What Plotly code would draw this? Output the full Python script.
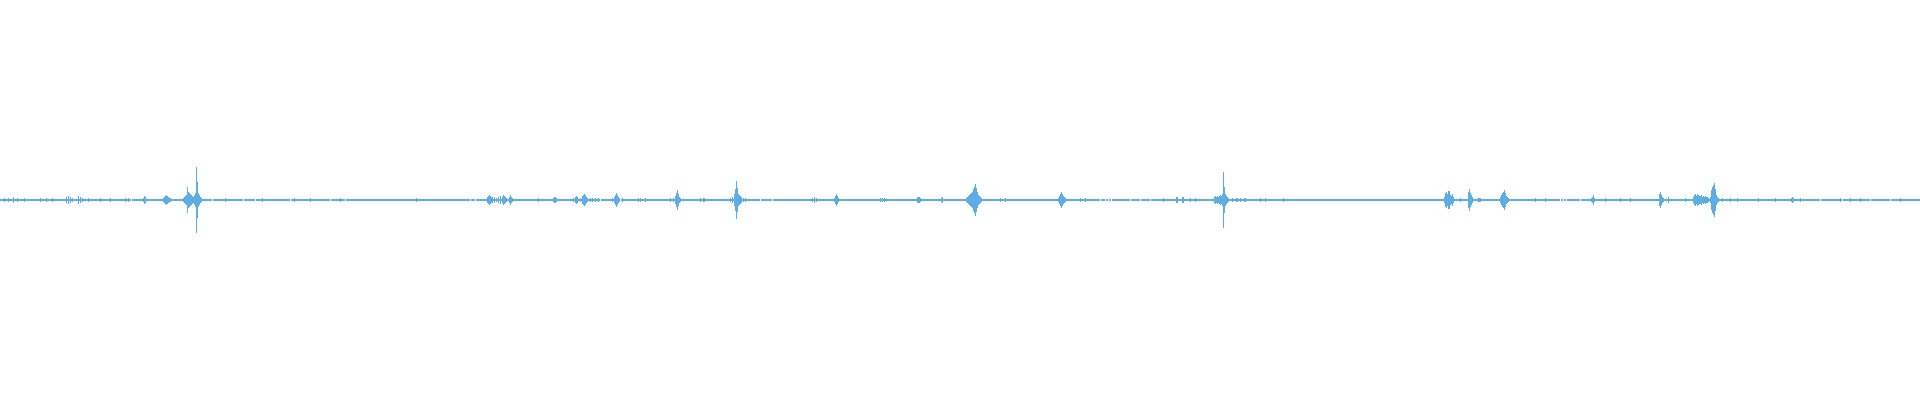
import plotly.graph_objects as go

# Waveform: one bar per pixel column (1920 columns), symmetric about the centre.
n_columns = 1920
baseline_amp = 1.0  # resting half-height of the waveform

# Columns with visible activity (column index, half-amplitude in px)
peak_x = [4, 8, 13, 17, 24, 40, 46, 52, 66, 68, 70, 72, 78, 80, 82, 88, 100, 110, 125, 128,
          143, 144, 145,
          163, 164, 165, 166, 167, 168, 169, 170,
          183, 184, 185, 186, 187, 188, 189, 190, 191, 192, 193, 194, 195, 196, 197, 198, 199, 200, 201,
          225, 262, 294, 310, 340, 416,
          487, 488, 489, 490, 491, 492, 494, 496, 498, 500, 502, 503, 504, 505, 506, 509, 510, 511, 512,
          538, 553, 554, 555, 556,
          573, 575, 576, 577, 580, 582, 583, 584, 585, 586, 587, 590, 592, 595, 598,
          612, 614, 615, 616, 617, 618, 619, 622, 638, 640, 645,
          670, 673, 675, 676, 677, 678, 679, 680, 700, 703, 704,
          730, 732, 734, 735, 736, 737, 738, 739, 740, 741, 743, 745,
          812, 814, 816, 834, 835, 836, 837, 838, 880, 882, 884,
          917, 918, 919, 920, 941, 942,
          966, 967, 968, 969, 970, 971, 972, 973, 974, 975, 976, 977, 978, 979, 980, 981,
          1000, 1005,
          1058, 1059, 1060, 1061, 1062, 1063, 1064, 1065, 1080, 1085,
          1163, 1176, 1177, 1182, 1183, 1190, 1195,
          1214, 1215, 1216, 1217, 1218, 1219, 1220, 1221, 1222, 1223, 1224, 1225, 1226, 1227, 1228,
          1232, 1236, 1237, 1240, 1244, 1245, 1260, 1265, 1283,
          1444, 1445, 1446, 1447, 1448, 1449, 1450, 1451, 1452, 1453, 1460,
          1468, 1469, 1470, 1471, 1472, 1478, 1479, 1480,
          1500, 1501, 1502, 1503, 1504, 1505, 1506, 1507, 1508, 1535, 1545,
          1591, 1592, 1593, 1594, 1605, 1620, 1630,
          1659, 1660, 1661, 1662, 1663, 1668, 1685,
          1693, 1694, 1695, 1696, 1697, 1698, 1699, 1700, 1701, 1702, 1703, 1704, 1705, 1706, 1707, 1708,
          1710, 1711, 1712, 1713, 1714, 1715, 1716, 1717, 1718,
          1722, 1730, 1737, 1758, 1775, 1791, 1792, 1793, 1800, 1840, 1850, 1860, 1900]
peak_amp = [2, 2, 3, 2, 2, 2, 2, 2, 3, 4, 3, 2, 4, 3, 2, 2, 2, 2, 2, 2,
            2, 4, 3,
            2, 3, 4, 5, 4, 3, 2, 2,
            2, 3, 4, 5, 13, 8, 7, 6, 5, 4, 3, 5, 7, 33, 18, 7, 5, 3, 2,
            2, 2, 2, 2, 2, 2,
            3, 4, 5, 4, 3, 3, 3, 2, 3, 4, 3, 5, 4, 3, 2, 3, 5, 3, 2,
            2, 2, 3, 3, 2,
            2, 3, 4, 3, 2, 4, 5, 6, 5, 3, 2, 2, 2, 2, 2,
            2, 3, 5, 7, 5, 3, 2, 2, 2, 2, 2,
            2, 2, 4, 7, 10, 6, 3, 2, 2, 2, 2,
            2, 3, 6, 11, 19, 12, 6, 5, 4, 3, 2, 2,
            2, 3, 2, 2, 4, 6, 4, 2, 2, 2, 2,
            3, 3, 3, 2, 2, 3,
            2, 3, 4, 5, 6, 7, 8, 11, 13, 16, 12, 8, 5, 4, 3, 2,
            2, 2,
            2, 4, 6, 8, 6, 4, 3, 2, 2, 2,
            2, 3, 3, 3, 3, 2, 2,
            3, 4, 3, 4, 3, 4, 5, 4, 6, 28, 13, 6, 4, 3, 2,
            2, 2, 2, 2, 2, 2, 2, 2, 2,
            3, 7, 8, 6, 9, 9, 5, 4, 6, 3, 2,
            8, 11, 7, 5, 3, 2, 2, 2,
            3, 5, 7, 8, 10, 7, 4, 3, 2, 2, 2,
            2, 3, 5, 2, 2, 2, 2,
            6, 8, 5, 3, 2, 3, 2,
            3, 5, 6, 4, 6, 5, 4, 4, 5, 3, 4, 3, 4, 3, 3, 2,
            3, 10, 13, 15, 17, 11, 5, 3, 2,
            2, 2, 2, 2, 2, 2, 3, 2, 2, 2, 2, 2, 2]

# Columns where the waveform is silent (no bar drawn)
gap_x = [131, 212, 243, 255, 290, 330, 345, 470, 475, 600, 620, 760, 772,
         1100, 1105, 1108, 1111, 1130, 1140, 1150, 1560, 1563, 1566, 1580,
         1820, 1842, 1870, 1890]

wave_color = "#5DADE2"

amps = {x: baseline_amp for x in range(n_columns)}
for x, a in zip(peak_x, peak_amp):
    amps[x] = a
for x in gap_x:
    amps[x] = 0

xs = [x for x in range(n_columns) if amps[x] > 0]
half = [amps[x] for x in xs]

fig = go.Figure(go.Bar(
    x=xs,
    y=[2 * a for a in half],
    base=[-a for a in half],
    marker=dict(color=wave_color, line=dict(width=0)),
    hoverinfo="skip",
))

fig.update_layout(
    width=1920, height=400,
    margin=dict(l=0, r=0, t=0, b=0),
    paper_bgcolor="white", plot_bgcolor="white",
    bargap=0, showlegend=False,
    xaxis=dict(range=[-0.5, n_columns - 0.5], visible=False, fixedrange=True),
    yaxis=dict(range=[-200, 200], visible=False, fixedrange=True),
)

fig.write_html("out.html", config={"displayModeBar": False, "staticPlot": True},
               post_script="document.body.style.margin='0';")
